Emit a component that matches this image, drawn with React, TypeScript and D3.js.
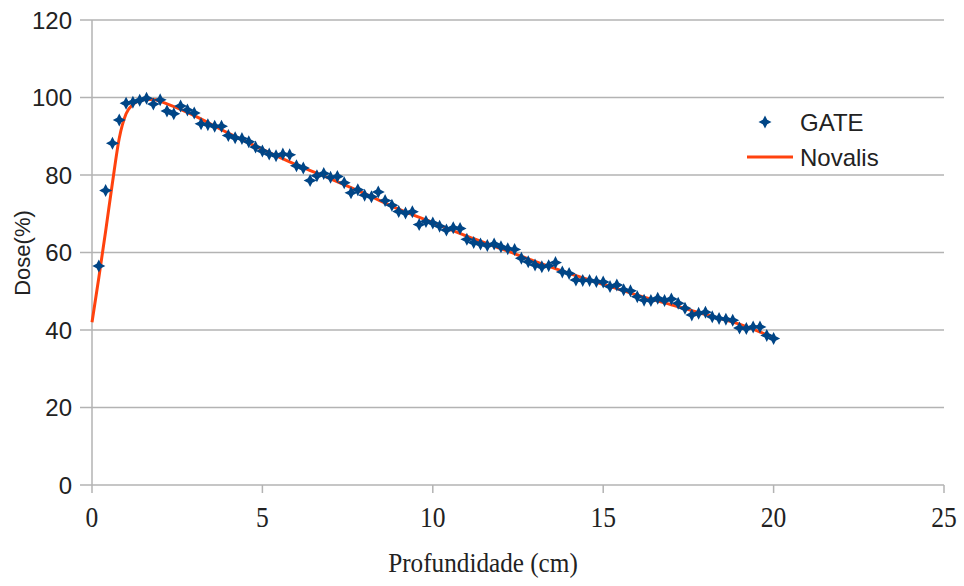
import React from "react";
import * as d3 from "d3";

const xTicks = [0, 5, 10, 15, 20, 25];
const yTicks = [0, 20, 40, 60, 80, 100, 120];

const gateDepth = [
  0.2, 0.4, 0.6, 0.8, 1.0, 1.2, 1.4, 1.6, 1.8, 2.0,
  2.2, 2.4, 2.6, 2.8, 3.0, 3.2, 3.4, 3.6, 3.8, 4.0,
  4.2, 4.4, 4.6, 4.8, 5.0, 5.2, 5.4, 5.6, 5.8, 6.0,
  6.2, 6.4, 6.6, 6.8, 7.0, 7.2, 7.4, 7.6, 7.8, 8.0,
  8.2, 8.4, 8.6, 8.8, 9.0, 9.2, 9.4, 9.6, 9.8, 10.0,
  10.2, 10.4, 10.6, 10.8, 11.0, 11.2, 11.4, 11.6, 11.8, 12.0,
  12.2, 12.4, 12.6, 12.8, 13.0, 13.2, 13.4, 13.6, 13.8, 14.0,
  14.2, 14.4, 14.6, 14.8, 15.0, 15.2, 15.4, 15.6, 15.8, 16.0,
  16.2, 16.4, 16.6, 16.8, 17.0, 17.2, 17.4, 17.6, 17.8, 18.0,
  18.2, 18.4, 18.6, 18.8, 19.0, 19.2, 19.4, 19.6, 19.8, 20.0,
];
const gateDose = [
  56.5, 76.0, 88.2, 94.2, 98.5, 98.8, 99.3, 99.8, 98.3, 99.4,
  96.5, 95.8, 97.8, 96.8, 96.0, 93.2, 93.0, 92.6, 92.6, 90.2,
  89.6, 89.4, 88.6, 87.2, 86.2, 85.4, 85.0, 85.4, 85.2, 82.4,
  81.8, 78.6, 79.8, 80.4, 79.4, 79.6, 78.0, 75.4, 76.2, 74.8,
  74.4, 75.6, 73.4, 72.2, 70.6, 70.2, 70.5, 67.2, 68.0, 67.6,
  66.8, 65.8, 66.4, 66.2, 63.4, 62.6, 62.2, 61.8, 62.2, 61.5,
  61.0, 60.8, 58.5, 57.6, 56.8, 56.3, 56.6, 57.4, 55.0, 54.6,
  52.9, 52.8, 52.8, 52.5, 52.4, 51.2, 51.6, 50.4, 50.1, 48.6,
  47.7, 47.6, 48.2, 47.6, 48.0, 46.9, 45.6, 43.9, 44.3, 44.6,
  43.4, 43.0, 42.8, 42.5, 40.5, 40.4, 40.8, 40.8, 38.6, 37.8,
];

const novalisDepth = [0, 0.2, 0.4, 0.6, 0.8, 1.0, 1.2, 1.4, 1.6, 1.8, 2.0, 2.5, 3, 4, 5, 6, 7, 8, 9, 10, 11, 12, 13, 14, 15, 16, 17, 18, 19, 20];
const novalisDose = [42, 53.5, 65.5, 78, 89.5, 95.8, 98.2, 99.2, 99.5, 99.5, 99.0, 97.3, 95.3, 90.8, 86.6, 82.6, 79, 75.2, 71.2, 67.7, 64.2, 61, 57.7, 54.6, 51.8, 49, 46.5, 44, 41.5, 38];

const W = 964;
const H = 586;
const left = 92, right = 944, top = 20, bottom = 485;

const star = "M0,-6.5 L2.2,-2.2 L6.5,0 L2.2,2.2 L0,6.5 L-2.2,2.2 L-6.5,0 L-2.2,-2.2 Z";

export default function App() {
  const x = d3.scaleLinear().domain([0, 25]).range([left, right]);
  const y = d3.scaleLinear().domain([0, 120]).range([bottom, top]);
  const line = d3.line<number>()
    .x((_, i) => x(novalisDepth[i]))
    .y((d) => y(d))
    .curve(d3.curveMonotoneX);
  const gridColor = "#b3b3b3";
  const sans = "'Liberation Sans', Arial, sans-serif";
  const serif = "'Liberation Serif', 'Times New Roman', serif";
  return (
    <svg width={W} height={H} style={{ position: "absolute", left: 0, top: 0, background: "#fff" }}>
      <rect x={0} y={0} width={W} height={H} fill="#fff" />
      {yTicks.map((t) => (
        <g key={"y" + t}>
          <line x1={left} x2={right} y1={y(t)} y2={y(t)} stroke={gridColor} strokeWidth={1.5} />
          <line x1={left - 12} x2={left} y1={y(t)} y2={y(t)} stroke={gridColor} strokeWidth={1.5} />
          <text x={72} y={y(t) + 8.5} textAnchor="end" fontFamily={sans} fontSize={24} fill="#222">{t}</text>
        </g>
      ))}
      <line x1={left} x2={left} y1={top} y2={bottom} stroke={gridColor} strokeWidth={1.5} />
      {xTicks.map((t) => (
        <g key={"x" + t}>
          <line x1={x(t)} x2={x(t)} y1={bottom} y2={bottom + 8} stroke={gridColor} strokeWidth={1.5} />
          <text transform={`translate(${x(t)},527) scale(0.88,1)`} textAnchor="middle" fontFamily={serif} fontSize={29} fill="#222">{t}</text>
        </g>
      ))}
      <text transform="translate(483,572) scale(0.9,1)" textAnchor="middle" fontFamily={serif} fontSize={28} fill="#222">Profundidade (cm)</text>
      <text transform="translate(30,253) rotate(-90)" textAnchor="middle" fontFamily={sans} fontSize={22} fill="#222">Dose(%)</text>
      <path d={line(novalisDose) || ""} fill="none" stroke="#ff420e" strokeWidth={3} />
      {gateDose.map((d, i) => (
        <path key={"g" + i} d={star} transform={`translate(${x(gateDepth[i])},${y(d)})`} fill="#004586" />
      ))}
      <path d={star} transform="translate(765,122)" fill="#004586" />
      <text x={800} y={130.5} fontFamily={sans} fontSize={24} fill="#222">GATE</text>
      <line x1={747} x2={793} y1={157} y2={157} stroke="#ff420e" strokeWidth={3} />
      <text x={800} y={165.5} fontFamily={sans} fontSize={24} fill="#222">Novalis</text>
    </svg>
  );
}
